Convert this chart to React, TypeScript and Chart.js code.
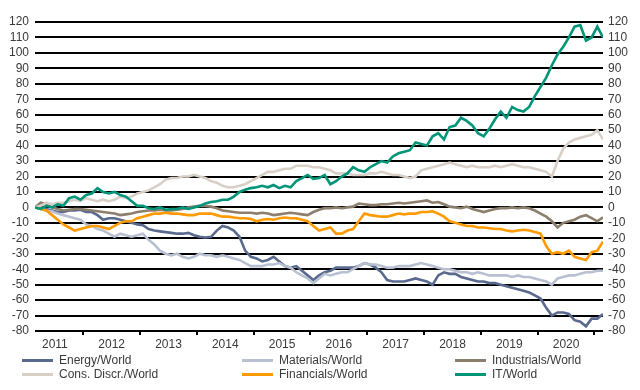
import React, { useEffect, useRef } from "react";
import { Chart, registerables } from "chart.js";

Chart.register(...registerables);

// Sample dates (decimal years)
const dates = [
  2011.15, 2011.25, 2011.35, 2011.45, 2011.55, 2011.65, 2011.75, 2011.85, 2011.95, 2012.05,
  2012.15, 2012.25, 2012.35, 2012.45, 2012.55, 2012.65, 2012.75, 2012.85, 2012.95, 2013.05,
  2013.15, 2013.25, 2013.35, 2013.45, 2013.55, 2013.65, 2013.75, 2013.85, 2013.95, 2014.05,
  2014.15, 2014.25, 2014.35, 2014.45, 2014.55, 2014.65, 2014.75, 2014.85, 2014.95, 2015.05,
  2015.15, 2015.25, 2015.35, 2015.45, 2015.55, 2015.65, 2015.75, 2015.85, 2015.95, 2016.05,
  2016.15, 2016.25, 2016.35, 2016.45, 2016.55, 2016.65, 2016.75, 2016.85, 2016.95, 2017.05,
  2017.15, 2017.25, 2017.35, 2017.45, 2017.55, 2017.65, 2017.75, 2017.85, 2017.95, 2018.05,
  2018.15, 2018.25, 2018.35, 2018.45, 2018.55, 2018.65, 2018.75, 2018.85, 2018.95, 2019.05,
  2019.15, 2019.25, 2019.35, 2019.45, 2019.55, 2019.65, 2019.75, 2019.85, 2019.95, 2020.05,
  2020.15, 2020.25, 2020.35, 2020.45, 2020.55, 2020.65, 2020.75, 2020.85, 2020.95, 2021.05,
  2021.15,
];

const yearLabels = ["2011", "2012", "2013", "2014", "2015", "2016", "2017", "2018", "2019", "2020"];
const yearBoundaries = [2012, 2013, 2014, 2015, 2016, 2017, 2018, 2019, 2020, 2021];

const energy = [
  0, -0.5, -1, -2, -3, -3, -2, -2, -1.5, -3,
  -3, -5, -8, -7, -7, -8, -9, -10, -11, -11.5,
  -14, -15, -15.5, -16, -16.5, -17, -17, -16.5, -18, -19,
  -19.5, -19, -15, -12, -13, -15, -19, -28, -32, -33,
  -35, -34, -32, -35, -38, -39, -38, -41, -44, -47,
  -44, -42, -41, -39, -39, -39, -39, -38, -36, -37,
  -39, -42, -47, -48, -48, -48, -47, -46, -47, -48,
  -50, -44, -42, -43, -43, -45, -46, -47, -48, -48,
  -49, -49, -50, -51, -52, -53, -54, -55, -57, -59,
  -65, -70, -68, -68, -69, -73, -74, -77, -72, -72,
  -69,
];

const materials = [
  0, -1, -2, -2.5, -4, -5, -6, -7, -8, -11,
  -12, -14, -15, -17, -19, -17, -18, -19, -18, -17,
  -21, -24, -28, -30, -31, -30, -32, -33, -32, -30,
  -31, -31, -32, -31, -32, -33, -34, -36, -38, -38,
  -38, -37, -37, -36, -38, -39, -42, -44, -46, -49,
  -46, -43, -44, -43, -42, -42, -40, -38, -36, -37,
  -37, -38, -39, -39, -38, -38, -38, -37, -36, -37,
  -38, -39, -40, -40, -41, -42, -42, -43, -42, -43,
  -44, -44, -44, -44, -45, -44, -45, -45, -46, -47,
  -48, -50, -46, -45, -44, -44, -43, -42, -42, -41,
  -41,
];

const industrials = [
  0, 3, 2, 0, -1, -2, -1.5, -1, -1, -1.5,
  -2, -2.5, -3, -3.5, -4, -5, -4.5, -4, -3, -2.5,
  -2, -2, -1.5, -2, -2, -1.5, -1, 0, 0.5, 1,
  1, 0.5, -0.5, -2, -2.5, -3, -3.5, -3.5, -3.5, -4,
  -3.5, -4, -5, -4.5, -4, -3.5, -4, -4.5, -5, -3,
  -1.5, -0.5, -0.5, 0, -0.5, 0, 0.5, 2.5, 2, 1.5,
  1.5, 2, 2, 2.5, 3, 2.5, 3, 3.5, 4, 4.5,
  3, 3.5, 2, 0.5, 0, -0.5, 0.5, -1, -2, -3,
  -2, -1, -0.5, -0.5, 0, -0.5, 0, -0.5, -2, -4,
  -6, -9, -13, -10, -9, -8, -6, -5, -7, -9,
  -6.5,
];

const consDiscr = [
  0, 1, 3, 2, 3, 3, 4, 5, 4, 6,
  5, 4, 5, 4, 5, 7, 6, 7, 9, 10,
  11, 13, 15, 18, 19, 19, 20, 20, 21, 20,
  19, 17, 16, 14, 13, 13, 14, 15, 17, 19,
  21, 23, 23, 24, 25, 25, 27, 27, 27, 26,
  26, 25, 24, 22, 22, 22, 21, 21, 21, 22,
  22, 23, 22, 21, 21, 20, 19, 20, 24, 25,
  26, 27, 28, 29, 28, 27, 26, 27, 26, 26,
  26, 27, 26, 27, 28, 27, 26, 26, 25, 24,
  23, 20, 30, 38, 42, 44, 45, 46, 47, 50,
  44,
];

const financials = [
  0, -1, -2, -5, -8, -11, -13, -15, -14, -13,
  -12, -12, -13, -14, -12, -10, -9, -9, -7, -6,
  -5, -4, -4, -3.5, -4, -4, -4.5, -5, -5, -4,
  -4, -4, -5, -6, -6, -6.5, -7, -7, -7.5, -9,
  -8, -7.5, -8, -7, -6.5, -7, -7, -8, -9, -12,
  -15, -14, -13, -17, -17, -15, -14, -9, -4, -5,
  -5.5, -6, -6, -5, -4, -4.5, -4, -4, -3, -3,
  -2.5, -4, -6, -9, -10, -11, -12, -12, -13, -13,
  -13.5, -14, -14, -15, -15.5, -15, -14.5, -15, -16, -17,
  -25, -30, -29, -30, -28, -32, -33, -34, -29, -28,
  -22,
];

const itWorld = [
  0, -1, 1, 0, 2, 1, 6, 7, 5, 8,
  9, 12.5, 10, 9, 10, 8, 7, 4, 1, 1,
  -0.5, -1, 0, -1.5, -1, -1, 0, -1, 0, 1,
  2.5, 3.5, 4, 5, 5, 7, 10, 11.5, 12.5, 13,
  14, 13, 14.5, 12.5, 14, 13, 17, 19, 21, 18.5,
  19, 21, 15, 17, 20, 22, 26, 24, 23, 26,
  28, 30, 29, 33, 35, 36, 37, 42, 41, 40,
  46, 48, 44, 52, 53, 58, 56, 53, 48, 46,
  51, 57, 62, 58, 65, 63, 62, 65, 72, 78,
  84, 92, 99, 104, 110, 117, 118, 108, 110, 117,
  110,
];

const seriesNames = [
  "Energy/World",
  "Materials/World",
  "Industrials/World",
  "Cons. Discr./World",
  "Financials/World",
  "IT/World",
];
const seriesValues = [energy, materials, industrials, consDiscr, financials, itWorld];
const seriesColors = ["#5a6a8e", "#b8c0d2", "#8d7f6e", "#d8d0c7", "#ff9a00", "#009479"];

const FONT = "'Liberation Sans', Arial, sans-serif";
const TEXT = "#3a3a3a";

export default function App() {
  const ref = useRef<HTMLCanvasElement | null>(null);

  useEffect(() => {
    if (!ref.current) return;
    const datasets = seriesNames.map((name, i) => ({
      label: name,
      data: seriesValues[i].map((v, j) => ({ x: dates[j], y: v })),
      borderColor: seriesColors[i],
      backgroundColor: seriesColors[i],
      borderWidth: 2.6,
      pointRadius: 0,
      tension: 0,
      fill: false,
      order: seriesNames.length - 1 - i,
      yAxisID: "y",
    }));

    const chart = new Chart(ref.current, {
      type: "line",
      data: { datasets },
      options: {
        animation: false,
        responsive: false,
        maintainAspectRatio: false,
        layout: { padding: { top: 22, left: 0, right: 0, bottom: 0 } },
        plugins: { legend: { display: false }, tooltip: { enabled: false } },
        scales: {
          x: {
            type: "linear",
            position: "bottom",
            min: dates[0],
            max: dates[dates.length - 1],
            border: { display: false },
            grid: {
              display: true,
              drawOnChartArea: false,
              drawTicks: true,
              tickLength: 4,
              lineWidth: 2,
              tickWidth: 2,
              tickColor: (ctx: any) =>
                ctx.tick && Number.isInteger(ctx.tick.value) ? "#000" : "rgba(0,0,0,0)",
              color: (ctx: any) =>
                ctx.tick && Number.isInteger(ctx.tick.value) ? "#000" : "rgba(0,0,0,0)",
            },
            afterBuildTicks: (scale: any) => {
              const t: any[] = [];
              yearBoundaries.forEach((b) => t.push({ value: b }));
              yearLabels.forEach((y) => t.push({ value: Number(y) + 0.5 }));
              t.sort((a, b) => a.value - b.value);
              scale.ticks = t;
            },
            afterFit: (scale: any) => {
              scale.height = 59;
            },
            ticks: {
              autoSkip: false,
              maxRotation: 0,
              minRotation: 0,
              padding: 2,
              color: TEXT,
              font: { family: FONT, size: 12 },
              callback: (value: any) => {
                const v = Number(value);
                if (Number.isInteger(v)) return "";
                const lbl = yearLabels.find((y) => Number(y) + 0.5 === v);
                return lbl ?? "";
              },
            },
          },
          y: {
            type: "linear",
            position: "left",
            min: -80,
            max: 120,
            border: { display: false },
            grid: { color: "#000", lineWidth: 2, drawTicks: false },
            afterFit: (scale: any) => {
              scale.width = 35;
            },
            ticks: {
              stepSize: 10,
              autoSkip: false,
              padding: 6,
              color: TEXT,
              font: { family: FONT, size: 12 },
            },
          },
          y2: {
            type: "linear",
            position: "right",
            min: -80,
            max: 120,
            border: { display: false },
            grid: { display: false, drawOnChartArea: false, drawTicks: false },
            afterFit: (scale: any) => {
              scale.width = 37;
            },
            ticks: {
              stepSize: 10,
              autoSkip: false,
              padding: 5,
              color: TEXT,
              font: { family: FONT, size: 12 },
            },
          },
        },
      },
    });
    return () => chart.destroy();
  }, []);

  const legendCols = [22, 242, 455];
  const legendRows = [360, 374];

  return (
    <div
      style={{
        position: "absolute",
        left: 0,
        top: 0,
        width: 640,
        height: 390,
        background: "#fff",
        overflow: "hidden",
      }}
    >
      <canvas ref={ref} width={640} height={390} style={{ display: "block", width: 640, height: 390 }} />
      {seriesNames.map((name, i) => {
        const col = i % 3;
        const row = Math.floor(i / 3);
        return (
          <div
            key={name}
            style={{
              position: "absolute",
              left: legendCols[col],
              top: legendRows[row] - 8,
              height: 16,
              display: "flex",
              alignItems: "center",
              fontFamily: FONT,
              fontSize: 12,
              color: TEXT,
              whiteSpace: "nowrap",
            }}
          >
            <span
              style={{
                display: "inline-block",
                width: 31,
                height: 3,
                background: seriesColors[i],
                marginRight: 6,
              }}
            />
            <span>{name}</span>
          </div>
        );
      })}
    </div>
  );
}
